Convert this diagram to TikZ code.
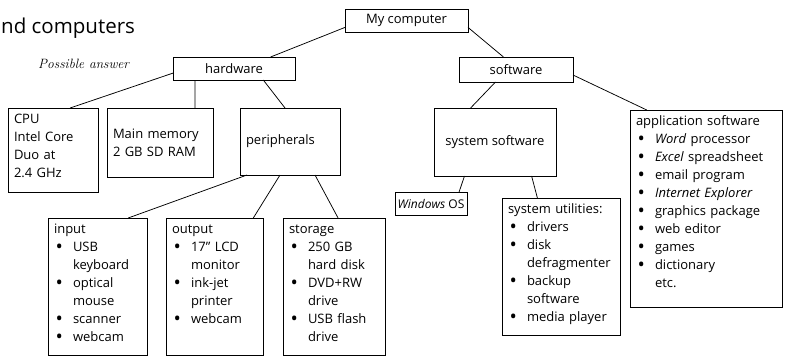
\documentclass[tikz,border=0pt]{standalone}
\usepackage{fontspec}
\usepackage{graphicx}
\setsansfont{Open Sans}
\usetikzlibrary{calc}

\newcommand{\blt}{\makebox[19pt][l]{\hspace{1.5pt}\raisebox{-2.2pt}{\scalebox{1.5}{\textbullet}}}}
\newcommand{\ind}{\hspace*{19pt}}

\begin{document}
\begin{tikzpicture}[
  x=1pt, y=-1pt,
  font=\sffamily\fontsize{13}{18}\selectfont,
  box/.style={draw=black, line width=0.9pt, anchor=north west,
              inner sep=2pt, outer sep=0pt, align=center},
  listbox/.style={draw=black, line width=0.9pt, anchor=north west,
                  align=left, inner xsep=6pt, inner ysep=5pt,
                  text height=10pt, outer sep=0pt},
  link/.style={line width=0.75pt}
]
\useasboundingbox (0,0) rectangle (787,356);

% Naslov
\node[anchor=base west, inner sep=0pt, font=\sffamily\fontsize{20.5}{24}\selectfont]
  (title) at (1,33) {nd computers};
\node[anchor=base west, inner sep=0pt, font=\rmfamily\itshape\fontsize{13.5}{16}\selectfont]
  (answer) at (38,68) {Possible answer};

% Zgornji nivoji
\node[box, minimum width=123pt, minimum height=23pt] (mycomp) at (345,9) {My computer};
\node[box, minimum width=122pt, minimum height=23pt] (hw) at (173,57) {hardware};
\node[box, minimum width=114pt, minimum height=25pt] (sw) at (459,57) {software};

% Strojna oprema
\node[listbox, text width=78pt, text depth=64pt] (cpu) at (8,108)
  {CPU\\Intel Core\\Duo at\\2.4 GHz};
\node[listbox, text width=94pt, minimum height=69pt] (mem) at (107,108)
  {Main memory\\2 GB SD RAM};
\node[listbox, text width=88pt, minimum height=67pt] (periph) at (240,108)
  {peripherals};

\node[listbox, text width=87pt, text depth=117pt] (input) at (48,218)
  {input\\\blt USB\\\ind keyboard\\\blt optical\\\ind mouse\\\blt scanner\\\blt webcam};
\node[listbox, text width=85pt, text depth=117pt] (output) at (166,218)
  {output\\\blt 17'' LCD\\\ind monitor\\\blt ink-jet\\\ind printer\\\blt webcam};
\node[listbox, text width=90pt, text depth=117pt] (storage) at (283,218)
  {storage\\\blt 250 GB\\\ind hard disk\\\blt DVD+RW\\\ind drive\\\blt USB flash\\\ind drive};

% Programska oprema
\node[box, minimum width=122pt, minimum height=68pt] (syssw) at (434,108) {system software};
\node[box, minimum width=72pt, minimum height=23pt, inner xsep=1pt,
      font=\sffamily\fontsize{12}{14}\selectfont] (win) at (395,192) {\textit{Windows} OS};
\node[listbox, text width=106pt, text depth=117pt] (util) at (502,198)
  {system utilities:\\\blt drivers\\\blt disk\\\ind defragmenter\\\blt backup\\\ind software\\\blt media player};
\node[listbox, text width=140pt, text depth=177pt] (app) at (630,110)
  {application software\\\blt \textit{Word} processor\\\blt \textit{Excel} spreadsheet\\
   \blt email program\\\blt \textit{Internet Explorer}\\\blt graphics package\\
   \blt web editor\\\blt games\\\blt dictionary\\\ind etc.};

% Povezave
\draw[link] ($(mycomp.south west)!0.2!(mycomp.north west)$) -- ($(hw.north west)!0.8!(hw.north east)$);
\draw[link] ($(mycomp.south east)!0.2!(mycomp.north east)$) -- ($(sw.north west)!0.39!(sw.north east)$);
\draw[link] ($(hw.south west)!0.3!(hw.north west)$) -- ($(cpu.north west)!0.69!(cpu.north east)$);
\draw[link] ($(hw.south west)!0.18!(hw.south east)$) -- ($(mem.north west)!0.83!(mem.north east)$);
\draw[link] ($(hw.south west)!0.74!(hw.south east)$) -- ($(periph.north west)!0.45!(periph.north east)$);
\draw[link] ($(periph.south west)!0.07!(periph.south east)$) -- ($(input.north west)!0.81!(input.north east)$);
\draw[link] ($(periph.south west)!0.4!(periph.south east)$) -- ($(output.north west)!0.9!(output.north east)$);
\draw[link] ($(periph.south west)!0.75!(periph.south east)$) -- ($(storage.north west)!0.54!(storage.north east)$);
\draw[link] ($(sw.south west)!0.32!(sw.south east)$) -- ($(syssw.north west)!0.3!(syssw.north east)$);
\draw[link] ($(sw.south east)!0.28!(sw.north east)$) -- ($(app.north west)!0.11!(app.north east)$);
\draw[link] ($(syssw.south west)!0.25!(syssw.south east)$) -- ($(win.north west)!0.89!(win.north east)$);
\draw[link] ($(syssw.south west)!0.8!(syssw.south east)$) -- ($(util.north west)!0.3!(util.north east)$);

\end{tikzpicture}
\end{document}
